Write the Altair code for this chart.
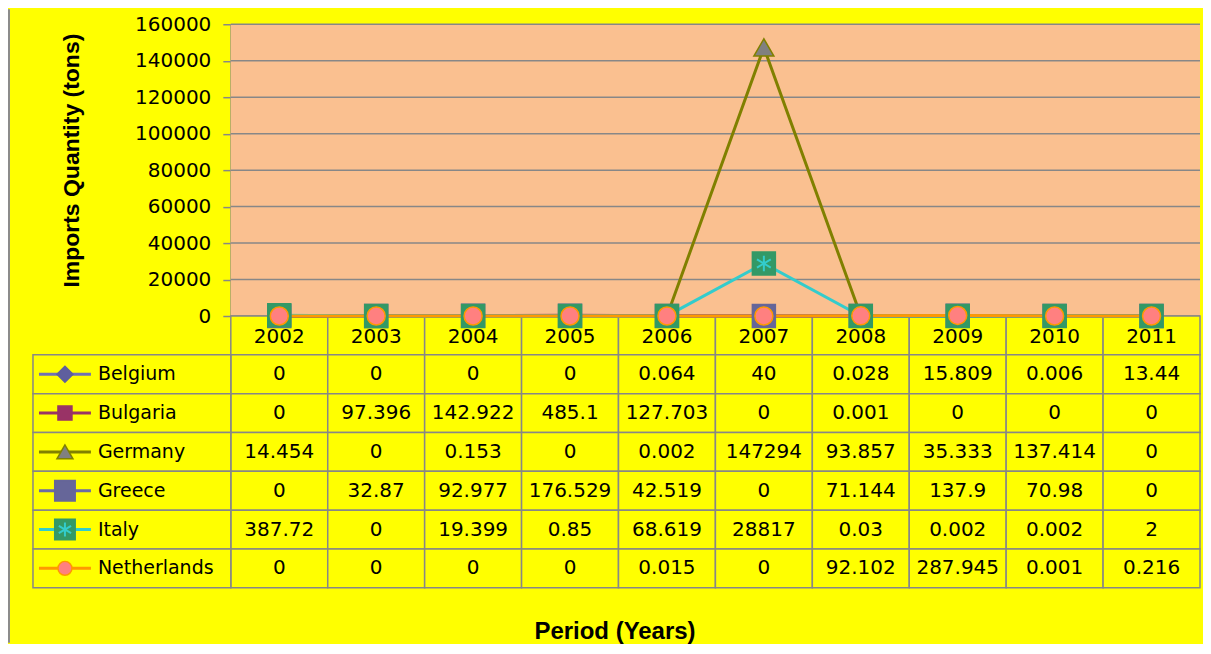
import altair as alt
import pandas as pd

years = ["2002", "2003", "2004", "2005", "2006", "2007", "2008", "2009", "2010", "2011"]
countries = ["Belgium", "Bulgaria", "Germany", "Greece", "Italy", "Netherlands"]

belgium = [0, 0, 0, 0, 0.064, 40, 0.028, 15.809, 0.006, 13.44]
bulgaria = [0, 97.396, 142.922, 485.1, 127.703, 0, 0.001, 0, 0, 0]
germany = [14.454, 0, 0.153, 0, 0.002, 147294, 93.857, 35.333, 137.414, 0]
greece = [0, 32.87, 92.977, 176.529, 42.519, 0, 71.144, 137.9, 70.98, 0]
italy = [387.72, 0, 19.399, 0.85, 68.619, 28817, 0.03, 0.002, 0.002, 2]
netherlands = [0, 0, 0, 0, 0.015, 0, 92.102, 287.945, 0.001, 0.216]

y_ticks = [0, 20000, 40000, 60000, 80000, 100000, 120000, 140000, 160000]

series = dict(zip(countries, [belgium, bulgaria, germany, greece, italy, netherlands]))

line_colors = ["#7070B4", "#993366", "#808000", "#6A6AA6", "#33CCCC", "#FF9900"]
marker_shapes = ["diamond", "square", "triangle-up", "square", "square", "circle"]
marker_fills = ["#5F5F9E", "#993366", "#808080", "#666699", "#339966", "#FF8080"]
marker_strokes = ["#5F5F9E", "#993366", "#808000", "#666699", "#339966", "#FF9900"]
plot_sizes = [256, 256, 400, 529, 529, 324]
legend_sizes = [256, 196, 256, 420, 420, 196]
ASTER = "M0,-0.68L0,0.68M-0.6,-0.36L0.6,0.36M-0.6,0.36L0.6,-0.36"

GRID = "#878787"
YELLOW = "#FFFF00"
PLOT_BG = "#FAC090"
NUM_FONT = "DejaVu Sans"
TITLE_FONT = "Liberation Sans"

W = 970
PLOT_H = 292
TABLE_H = 272

records = []
for c in countries:
    for y, v in zip(years, series[c]):
        records.append({"country": c, "row": c, "year": y, "value": v, "label": f"{v:g}"})
df = pd.DataFrame(records)

header = pd.DataFrame({"row": ["hdr"] * len(years), "year": years, "label": years})
cells = pd.concat([header, df[["row", "year", "label"]]], ignore_index=True)
legend_df = pd.DataFrame({"row": countries})
rows = ["hdr"] + countries
one = pd.DataFrame({"k": [0]})

# scales
x_scale = alt.Scale(type="band", domain=years, paddingInner=0, paddingOuter=0)
x_axis = alt.Axis(
    labels=False, ticks=False, domain=False, grid=False, title="Period (Years)",
    titleX=384, titleY=51, titleAlign="center", titleBaseline="alphabetic",
    titleFont=TITLE_FONT, titleFontSize=24, titleFontWeight="bold", titleColor="black",
)
xb = alt.X("year:O", scale=x_scale, axis=x_axis)
top_y = alt.Scale(domain=[0, 160000], range=[PLOT_H, 0], nice=False, zero=False)
table_y = alt.Scale(type="band", domain=rows, range=[PLOT_H, PLOT_H + TABLE_H], paddingInner=0, paddingOuter=0)
yv = alt.Y("value:Q", scale=top_y, axis=None)
yb = alt.Y("row:N", scale=table_y, axis=None)

layers = []

# plot area background
layers.append(
    alt.Chart(one).mark_rect(color=PLOT_BG).encode(
        x=alt.value(0), x2=alt.value(W),
        y=alt.YDatum(y_ticks[-1], scale=top_y, axis=None, type="quantitative"),
        y2=alt.Y2Datum(y_ticks[0]),
    )
)

# gridlines + y axis
layers.append(
    alt.Chart(pd.DataFrame({"tick": y_ticks})).mark_rule(color=GRID, strokeWidth=1.5).encode(
        x=alt.value(0), x2=alt.value(W),
        y=alt.Y(
            "tick:Q", scale=top_y,
            axis=alt.Axis(
                values=y_ticks, format="d", title="Imports Quantity (tons)", labelOverlap=False,
                labelFont=NUM_FONT, labelFontSize=20, labelColor="black", labelPadding=12,
                tickSize=8, tickColor=GRID, tickWidth=1.5,
                domainColor=GRID, domainWidth=2, grid=False,
                titleFont=TITLE_FONT, titleFontSize=23, titleFontWeight="bold", titleColor="black",
                titleAngle=270, titleX=-159, titleY=136, titleAlign="center", titleBaseline="middle",
            ),
        ),
    )
)

# table cells
layers.append(alt.Chart(cells).mark_rect(fill=YELLOW, stroke=GRID, strokeWidth=1.5).encode(x=xb, y=yb))
layers.append(
    alt.Chart(legend_df).mark_rect(fill=YELLOW, stroke=GRID, strokeWidth=1.5).encode(
        x=alt.value(-198), x2=alt.value(0), y=yb
    )
)
layers.append(
    alt.Chart(cells).transform_filter(alt.datum.row != "hdr")
    .mark_text(font=NUM_FONT, fontSize=20, color="black").encode(x=xb, y=yb, text="label:N")
)
layers.append(
    alt.Chart(cells).transform_filter(alt.datum.row == "hdr")
    .mark_text(font=NUM_FONT, fontSize=20, color="black", dy=2).encode(x=xb, y=yb, text="label:N")
)
layers.append(
    alt.Chart(legend_df).mark_text(font=NUM_FONT, fontSize=19, color="black", align="left").encode(
        x=alt.value(-133), y=yb, text="row:N"
    )
)

# legend glyphs in the table
for i, c in enumerate(countries):
    sub = alt.Chart(legend_df).transform_filter(alt.datum.row == c)
    layers.append(
        sub.mark_rule(color=line_colors[i], strokeWidth=3).encode(x=alt.value(-192), x2=alt.value(-140), y=yb)
    )
    layers.append(
        sub.mark_point(
            shape=marker_shapes[i], size=legend_sizes[i], filled=True, opacity=1,
            fill=marker_fills[i], stroke=marker_strokes[i], strokeWidth=1.5,
        ).encode(x=alt.value(-166), y=yb)
    )
    if c == "Italy":
        layers.append(
            sub.mark_point(shape=ASTER, size=420, filled=False, opacity=1, stroke="#33CCCC", strokeWidth=2)
            .encode(x=alt.value(-166), y=yb)
        )

# series lines and markers
layers.append(
    alt.Chart(df).mark_line(strokeWidth=3).encode(
        x=xb, y=yv,
        color=alt.Color("country:N", scale=alt.Scale(domain=countries, range=line_colors), legend=None),
    )
)
for i, c in enumerate(countries):
    sub = alt.Chart(df).transform_filter(alt.datum.country == c)
    layers.append(
        sub.mark_point(
            shape=marker_shapes[i], size=plot_sizes[i], filled=True, opacity=1,
            fill=marker_fills[i], stroke=marker_strokes[i], strokeWidth=1.5,
        ).encode(x=xb, y=yv)
    )
    if c == "Italy":
        layers.append(
            sub.mark_point(shape=ASTER, size=529, filled=False, opacity=1, stroke="#33CCCC", strokeWidth=2)
            .encode(x=xb, y=yv)
        )

# chart-area left border
layers.append(
    alt.Chart(one).mark_rule(color="#8C8C8C", strokeWidth=2).encode(
        x=alt.value(-222), y=alt.value(-15), y2=alt.value(619)
    )
)

chart = (
    alt.layer(*layers)
    .resolve_scale(y="independent")
    .properties(width=W, height=PLOT_H + TABLE_H, padding={"left": 0, "top": 0, "right": 2, "bottom": 0})
    .configure(background=YELLOW)
    .configure_view(strokeWidth=0)
)

chart.save("out.html", embed_options={"renderer": "svg", "actions": False})
